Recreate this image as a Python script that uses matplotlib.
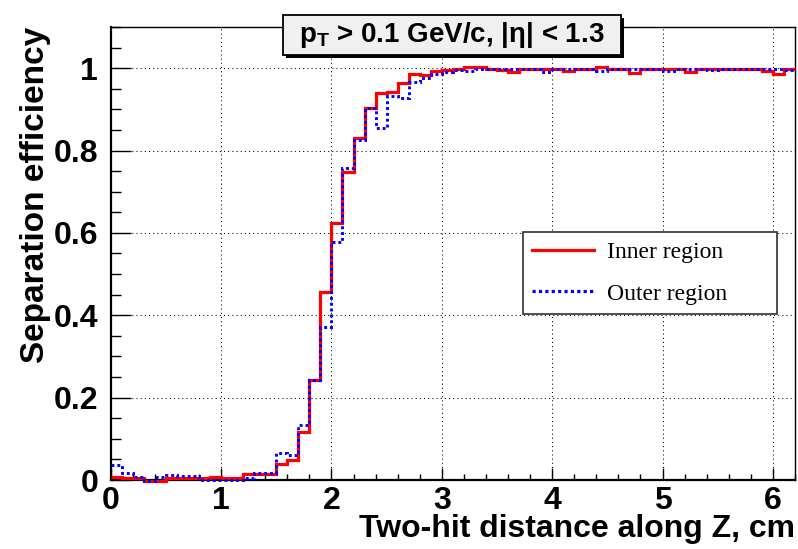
import numpy as np
import matplotlib
matplotlib.use("Agg")
import matplotlib.pyplot as plt
from matplotlib.patches import Rectangle
from matplotlib.lines import Line2D
from matplotlib.ticker import MultipleLocator, FuncFormatter

# ---- data: separation efficiency vs two-hit distance (bins of 0.1 cm) ----
bin_edges = np.round(np.linspace(0.0, 6.2, 63), 3)

inner_region = [
    0.008, 0.006, 0.005, -0.003, -0.003, 0.005, 0.005, 0.005, 0.005, 0.007,
    0.005, 0.005, 0.015, 0.015, 0.015, 0.040, 0.049, 0.116, 0.243, 0.457,
    0.625, 0.749, 0.831, 0.903, 0.939, 0.942, 0.965, 0.986, 0.984, 0.992,
    0.995, 0.998, 1.002, 1.002, 0.998, 0.996, 0.990, 0.998, 0.998, 0.998,
    0.998, 0.993, 0.998, 0.998, 1.002, 0.998, 0.998, 0.988, 0.998, 0.998,
    0.998, 0.998, 0.990, 0.998, 0.998, 0.998, 0.998, 0.998, 0.998, 0.993,
    0.986, 0.998,
]

outer_region = [
    0.036, 0.018, 0.007, -0.002, 0.008, 0.013, 0.010, 0.010, -0.001, -0.001,
    -0.001, -0.001, 0.005, 0.016, 0.016, 0.066, 0.061, 0.133, 0.243, 0.372,
    0.579, 0.757, 0.826, 0.903, 0.854, 0.933, 0.927, 0.966, 0.977, 0.985,
    0.991, 0.996, 0.992, 0.998, 0.998, 0.997, 0.998, 0.998, 0.998, 0.991,
    0.999, 0.998, 0.998, 0.998, 0.994, 0.998, 0.998, 0.998, 0.998, 0.998,
    0.993, 0.998, 0.998, 0.998, 0.995, 0.999, 0.998, 0.998, 0.998, 0.998,
    0.998, 0.996,
]

series_labels = ["Inner region", "Outer region"]
title_text = r"$p_{T}$ > 0.1 GeV/c, |η| < 1.3"
x_label = "Two-hit distance along Z, cm"
y_label = "Separation efficiency"

# ---- style ----
plt.rcParams["font.family"] = ["Liberation Sans", "DejaVu Sans"]
plt.rcParams["font.weight"] = "bold"
plt.rcParams["mathtext.fontset"] = "custom"
plt.rcParams["mathtext.rm"] = "Liberation Sans:bold"
plt.rcParams["mathtext.it"] = "Liberation Sans:bold"
plt.rcParams["mathtext.bf"] = "Liberation Sans:bold"
plt.rcParams["mathtext.default"] = "rm"

W, H, DPI = 798, 549, 100
fig = plt.figure(figsize=(W / DPI, H / DPI), dpi=DPI)
fig.patch.set_facecolor("white")

# frame in pixels: left, right, top, bottom
L, R, T, B = 110.7, 795.0, 27.0, 480.0
ax = fig.add_axes([L / W, (H - B) / H, (R - L) / W, (B - T) / H])

ax.stairs(inner_region, bin_edges, baseline=None, color="red", lw=2.3,
          clip_on=False, zorder=3, joinstyle="miter")
ax.stairs(outer_region, bin_edges, baseline=None, color="blue", lw=2.1,
          linestyle=(0, (1, 1)), capstyle="butt", clip_on=False, zorder=4,
          joinstyle="miter")

ax.set_xlim(0, 6.2)
ax.set_ylim(0, 1.1)

ax.xaxis.set_major_locator(MultipleLocator(1))
ax.xaxis.set_minor_locator(MultipleLocator(0.2))
ax.yaxis.set_major_locator(MultipleLocator(0.2))
ax.yaxis.set_minor_locator(MultipleLocator(0.05))


def y_fmt(v, _):
    if abs(v) < 1e-9:
        return "0"
    if abs(v - 1) < 1e-9:
        return "1"
    return f"{v:.1f}"


ax.yaxis.set_major_formatter(FuncFormatter(y_fmt))
ax.xaxis.set_major_formatter(FuncFormatter(lambda v, _: f"{v:g}"))

ax.tick_params(axis="x", which="major", direction="in", length=8.6, width=1.0,
               top=False, pad=4, labelsize=23)
ax.tick_params(axis="x", which="minor", direction="in", length=4.3, width=1.0,
               top=False)
ax.tick_params(axis="y", which="major", direction="in", length=14.4, width=1.0,
               right=False, pad=9, labelsize=23)
ax.tick_params(axis="y", which="minor", direction="in", length=7.2, width=1.0,
               right=False)

ax.grid(which="major", color="black", lw=0.75, linestyle=(0, (1, 3)), zorder=0)
ax.set_axisbelow(True)

for side in ("left", "bottom"):
    ax.spines[side].set_linewidth(1.6)
for side in ("top", "right"):
    ax.spines[side].set_linewidth(1.0)

ax.set_xlabel(x_label, fontsize=23, fontweight="bold", loc="right")
ax.xaxis.set_label_coords(1.0, -0.075)
ax.set_ylabel(y_label, fontsize=24, fontweight="bold", loc="top")
ax.yaxis.set_label_coords(-0.087, 1.0)

# legend box spanning x 523..777, y 232..314 (pixels from top-left)
handles = [
    Line2D([], [], color="red", lw=2.3),
    Line2D([], [], color="blue", lw=2.3, linestyle=(0, (1, 1)),
           dash_capstyle="butt"),
]
leg = ax.legend(handles, series_labels, loc="upper left",
                bbox_to_anchor=(523 / W, 1 - 314 / H, (777 - 523) / W, 82 / H),
                bbox_transform=fig.transFigure, mode="expand", borderaxespad=0,
                fancybox=False, framealpha=1, edgecolor="#404040",
                handlelength=2.6, handletextpad=0.55, borderpad=0.4,
                labelspacing=0.85,
                prop={"family": "Liberation Serif", "size": 17,
                      "weight": "normal"})
leg.get_frame().set_linewidth(1.3)
leg.set_zorder(6)

# title box with shadow
bx0, bx1, by0, by1 = 283, 621, 15, 55
fig.patches.append(Rectangle(((bx0 + 3) / W, 1 - (by1 + 3) / H),
                             (bx1 - bx0) / W, (by1 - by0) / H,
                             transform=fig.transFigure, facecolor="black",
                             edgecolor="none", zorder=10))
fig.patches.append(Rectangle((bx0 / W, 1 - by1 / H),
                             (bx1 - bx0) / W, (by1 - by0) / H,
                             transform=fig.transFigure, facecolor="#f0f0f0",
                             edgecolor="black", lw=1.3, zorder=11))
fig.text((bx0 + bx1) / 2 / W, 1 - (by0 + by1) / 2 / H, title_text,
         ha="center", va="center", fontsize=20, fontweight="bold", zorder=12)

fig.savefig("out.png", dpi=DPI)
